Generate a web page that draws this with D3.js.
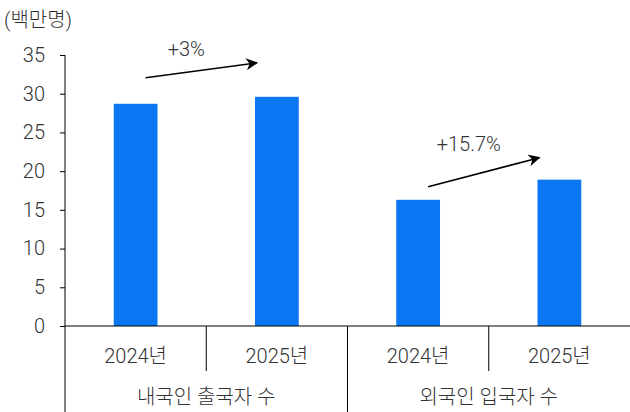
<!DOCTYPE html>
<html>
<head>
<meta charset="utf-8">
<script src="https://cdn.jsdelivr.net/npm/d3@7"></script>
<style>
  body { margin: 0; background: #fff; }
  text { font-family: Roboto, "Noto Sans CJK KR", sans-serif; font-weight: 300; fill: #333; }
</style>
</head>
<body>
<svg id="chart" width="630" height="412"></svg>
<script>
// categories and values (millions)
let groups = ["내국인 출국자 수", "외국인 입국자 수"];
let years = ["2024년", "2025년"];
let values = [28.7, 29.6, 16.3, 18.9];
let growthLabels = ["+3%", "+15.7%"];
let yTicks = [0, 5, 10, 15, 20, 25, 30, 35];

let svg = d3.select("#chart");
let margin = {left: 65, top: 55, right: 0, bottom: 86};
let w = 630, h = 412;
let base = h - margin.bottom;

let keys = [];
groups.forEach((g, i) => years.forEach((y, j) => keys.push(i + "-" + j)));

let x = d3.scaleBand()
  .domain(keys)
  .range([margin.left, w])
  .paddingInner(0);

let y = d3.scaleLinear()
  .domain([0, 35])
  .range([base, margin.top]);

// unit label
svg.append("text")
  .attr("x", 4).attr("y", 27)
  .style("font-size", "20px")
  .text("(백만명)");

// bars
let bw = x.bandwidth() * 0.31;
svg.append("g").selectAll("rect")
  .data(values)
  .enter()
  .append("rect")
    .attr("x", (d, i) => x(keys[i]) + (x.bandwidth() - bw) / 2)
    .attr("y", d => y(d))
    .attr("width", bw)
    .attr("height", d => base - y(d))
    .attr("fill", "#0b77f2");

// y axis
let yAxis = d3.axisLeft(y).tickValues(yTicks).tickSize(5).tickPadding(15);
let gy = svg.append("g")
  .attr("transform", "translate(" + margin.left + ",0)")
  .call(yAxis);
gy.select(".domain").remove();
gy.selectAll(".tick line").attr("stroke", "#000");
gy.selectAll(".tick text")
  .style("font-size", "20px")
  .style("font-family", "Roboto, sans-serif")
  .attr("fill", "#333");

svg.append("line")
  .attr("x1", margin.left).attr("x2", margin.left)
  .attr("y1", margin.top).attr("y2", h)
  .attr("stroke", "#000");

// x axis line
svg.append("line")
  .attr("x1", margin.left).attr("x2", w)
  .attr("y1", base).attr("y2", base)
  .attr("stroke", "#000");

// dividers
keys.forEach((k, i) => {
  if (i === 0) return;
  let long = i % 2 === 0;
  svg.append("line")
    .attr("x1", x(k)).attr("x2", x(k))
    .attr("y1", base).attr("y2", long ? h : base + 45)
    .attr("stroke", "#000");
});

// year labels
svg.append("g").selectAll("text")
  .data(keys)
  .enter()
  .append("text")
    .attr("x", k => x(k) + x.bandwidth() / 2)
    .attr("y", base + 37)
    .attr("text-anchor", "middle")
    .style("font-size", "20px")
    .text((k, i) => years[i % 2]);

// group labels
svg.append("g").selectAll("text")
  .data(groups)
  .enter()
  .append("text")
    .attr("x", (g, i) => x(keys[i * 2]) + x.bandwidth())
    .attr("y", base + 78)
    .attr("text-anchor", "middle")
    .style("font-size", "20px")
    .text(g => g);

// growth arrows
svg.append("defs").append("marker")
  .attr("id", "arr")
  .attr("viewBox", "0 0 10 10")
  .attr("refX", 9).attr("refY", 5)
  .attr("markerWidth", 8).attr("markerHeight", 8)
  .attr("orient", "auto")
  .append("path")
    .attr("d", "M0,0 L10,5 L0,10 L3,5 Z")
    .attr("fill", "#000");

// vertical gap (px) between bar top and arrow ends
let arrowGap = [[26, 34], [13, 22]];

groups.forEach((g, i) => {
  let v0 = values[i * 2], v1 = values[i * 2 + 1];
  let x0 = x(keys[i * 2]) + x.bandwidth() / 2 + 10;
  let x1 = x(keys[i * 2 + 1]) + x.bandwidth() / 2 - 20;
  let y0 = y(v0) - arrowGap[i][0];
  let y1 = y(v1) - arrowGap[i][1];
  svg.append("line")
    .attr("x1", x0).attr("y1", y0)
    .attr("x2", x1).attr("y2", y1)
    .attr("stroke", "#000")
    .attr("stroke-width", 1.5)
    .attr("marker-end", "url(#arr)");
  svg.append("text")
    .attr("x", (x0 + x1) / 2 - 15)
    .attr("y", y1 - 7)
    .attr("text-anchor", "middle")
    .style("font-size", "20px")
    .text(growthLabels[i]);
});
</script>
</body>
</html>
